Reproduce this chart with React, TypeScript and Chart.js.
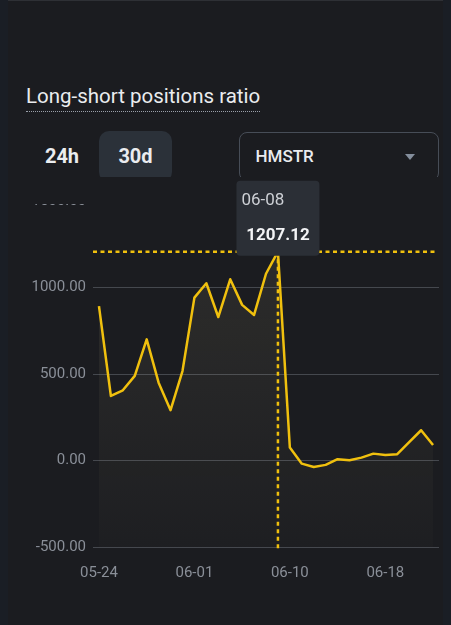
import React, { useEffect, useRef } from "react";
import { Chart, registerables } from "chart.js";

Chart.register(...registerables);

const DATES = [
  "05-24", "05-25", "05-26", "05-27", "05-28", "05-29", "05-30", "05-31",
  "06-01", "06-02", "06-03", "06-04", "06-05", "06-06", "06-07", "06-08",
  "06-10", "06-11", "06-12", "06-13", "06-14", "06-15", "06-16", "06-17",
  "06-18", "06-19", "06-20", "06-21", "06-22",
];
const RATIO = [
  893, 374, 407, 490, 701, 451, 292, 518,
  942, 1025, 830, 1048, 900, 842, 1080, 1207.12,
  76, -17, -36, -24, 9, 3, 18, 41,
  33, 38, 108, 176, 91,
];
const Y_MIN = -500;
const Y_MAX = 1500;
const Y_STEP = 500;
const X_TICK_EVERY = 8;
const ACTIVE_INDEX = 15;

const BG = "#1b1c20";
const YELLOW = "#F0C00E";
const FONT = "Roboto, 'Noto Sans', sans-serif";

export default function App() {
  const canvasRef = useRef<HTMLCanvasElement>(null);

  useEffect(() => {
    const canvas = canvasRef.current!;
    const overlay = {
      id: "crossTip",
      afterDraw(chart: any) {
        const c = chart.ctx;
        const area = chart.chartArea;
        const pt = chart.getDatasetMeta(0).data[ACTIVE_INDEX];
        if (!pt) return;
        const px = pt.x;
        const py = pt.y;
        c.save();
        // cover top strip (hidden under header)
        c.fillStyle = BG;
        c.fillRect(0, 0, chart.width, 27);
        // crosshair
        c.strokeStyle = YELLOW;
        c.lineWidth = 2.5;
        c.setLineDash([4, 3.5]);
        c.beginPath();
        c.moveTo(area.left, py);
        c.lineTo(area.right - 3, py);
        c.stroke();
        c.beginPath();
        c.moveTo(px, py);
        c.lineTo(px, area.bottom + 1);
        c.stroke();
        c.setLineDash([]);
        // tooltip box
        const w = 83;
        const h = 75;
        const bx = px - w / 2;
        const by = py + 4 - h;
        c.fillStyle = "#2b2f36";
        c.beginPath();
        (c as any).roundRect(bx, by, w, h, 4);
        c.fill();
        c.textBaseline = "middle";
        c.font = `400 17px ${FONT}`;
        c.fillStyle = "#cdd0d5";
        c.textAlign = "left";
        c.fillText(DATES[ACTIVE_INDEX], bx + 5, by + 20);
        c.font = `700 17px ${FONT}`;
        c.fillStyle = "#f3f4f6";
        c.textAlign = "center";
        c.fillText(RATIO[ACTIVE_INDEX].toFixed(2), px, by + 55);
        c.restore();
      },
    };

    const chart = new Chart(canvas, {
      type: "line",
      data: {
        labels: DATES,
        datasets: [
          {
            data: RATIO,
            borderColor: YELLOW,
            borderWidth: 2.5,
            borderJoinStyle: "round",
            pointRadius: 0,
            tension: 0,
            fill: "start",
            backgroundColor: (ctx: any) => {
              const a = ctx.chart.chartArea;
              if (!a) return "rgba(0,0,0,0)";
              const g = ctx.chart.ctx.createLinearGradient(0, a.top, 0, a.bottom);
              g.addColorStop(0, "rgba(230,215,160,0.10)");
              g.addColorStop(1, "rgba(230,215,160,0.015)");
              return g;
            },
          },
        ],
      },
      options: {
        animation: false,
        responsive: false,
        maintainAspectRatio: false,
        events: [],
        layout: { padding: { top: 24, bottom: 18.7, left: 0, right: 4 } },
        plugins: {
          legend: { display: false },
          tooltip: { enabled: false },
        },
        scales: {
          x: {
            type: "category",
            offset: true,
            afterFit: (s: any) => {
              s.height = 35;
              s.paddingLeft = 0;
              s.paddingRight = 0;
            },
            grid: { display: false, drawTicks: false },
            border: { display: false },
            ticks: {
              autoSkip: false,
              maxRotation: 0,
              minRotation: 0,
              padding: 17,
              color: "#8a8f98",
              font: { family: FONT, size: 15 },
              callback: (_v: any, i: number) => (i % X_TICK_EVERY === 0 ? DATES[i] : ""),
            },
          },
          y: {
            min: Y_MIN,
            max: Y_MAX,
            afterFit: (s: any) => {
              s.width = 85;
              s.paddingTop = 0;
              s.paddingBottom = 0;
            },
            grid: { color: "#45484e", lineWidth: 1, drawTicks: false },
            border: { display: false },
            ticks: {
              stepSize: Y_STEP,
              padding: 7,
              color: "#8a8f98",
              font: { family: FONT, size: 15 },
              callback: (v: any) => Number(v).toFixed(2),
            },
          },
        },
      },
      plugins: [overlay],
    });
    return () => chart.destroy();
  }, []);

  const abs = (l: number, t: number, w?: number, h?: number): React.CSSProperties => ({
    position: "absolute",
    left: l - 8,
    top: t,
    width: w,
    height: h,
  });

  return (
    <div style={{ position: "fixed", inset: 0, background: "#1a1e25", fontFamily: FONT }}>
      <div
        style={{
          position: "absolute",
          left: 8,
          top: 0,
          width: 435,
          height: 625,
          background: BG,
          borderTop: "1px solid #2e3035",
          boxSizing: "border-box",
        }}
      >
        <div
          style={{
            ...abs(26, 83),
            fontSize: 20.5,
            lineHeight: "24px",
            color: "#eaecef",
            whiteSpace: "nowrap",
            borderBottom: "1px dotted #9aa0aa",
            paddingBottom: 3,
          }}
        >
          Long-short positions ratio
        </div>
        <div
          style={{
            ...abs(40, 130, 44, 50),
            display: "flex",
            alignItems: "center",
            justifyContent: "center",
            fontSize: 20,
            fontWeight: 700,
            color: "#eaecef",
          }}
        >
          24h
        </div>
        <div
          style={{
            ...abs(99, 129.5, 73, 51),
            borderRadius: 10,
            background: "#2b3139",
            display: "flex",
            alignItems: "center",
            justifyContent: "center",
            fontSize: 20,
            fontWeight: 700,
            color: "#eaecef",
          }}
        >
          30d
        </div>
        <div
          style={{
            ...abs(238.5, 130.5, 200, 49),
            border: "1px solid #474d57",
            borderRadius: 8,
            boxSizing: "border-box",
            display: "flex",
            alignItems: "center",
          }}
        >
          <span style={{ marginLeft: 16, fontSize: 17, fontWeight: 500, color: "#eaecef" }}>HMSTR</span>
          <span
            style={{
              position: "absolute",
              right: 23,
              top: 21,
              width: 0,
              height: 0,
              borderLeft: "5.5px solid transparent",
              borderRight: "5.5px solid transparent",
              borderTop: "6px solid #848e9c",
            }}
          />
        </div>
        <canvas
          ref={canvasRef}
          width={435}
          height={424}
          style={{ position: "absolute", left: 0, top: 176, width: 435, height: 424 }}
        />
      </div>
    </div>
  );
}
